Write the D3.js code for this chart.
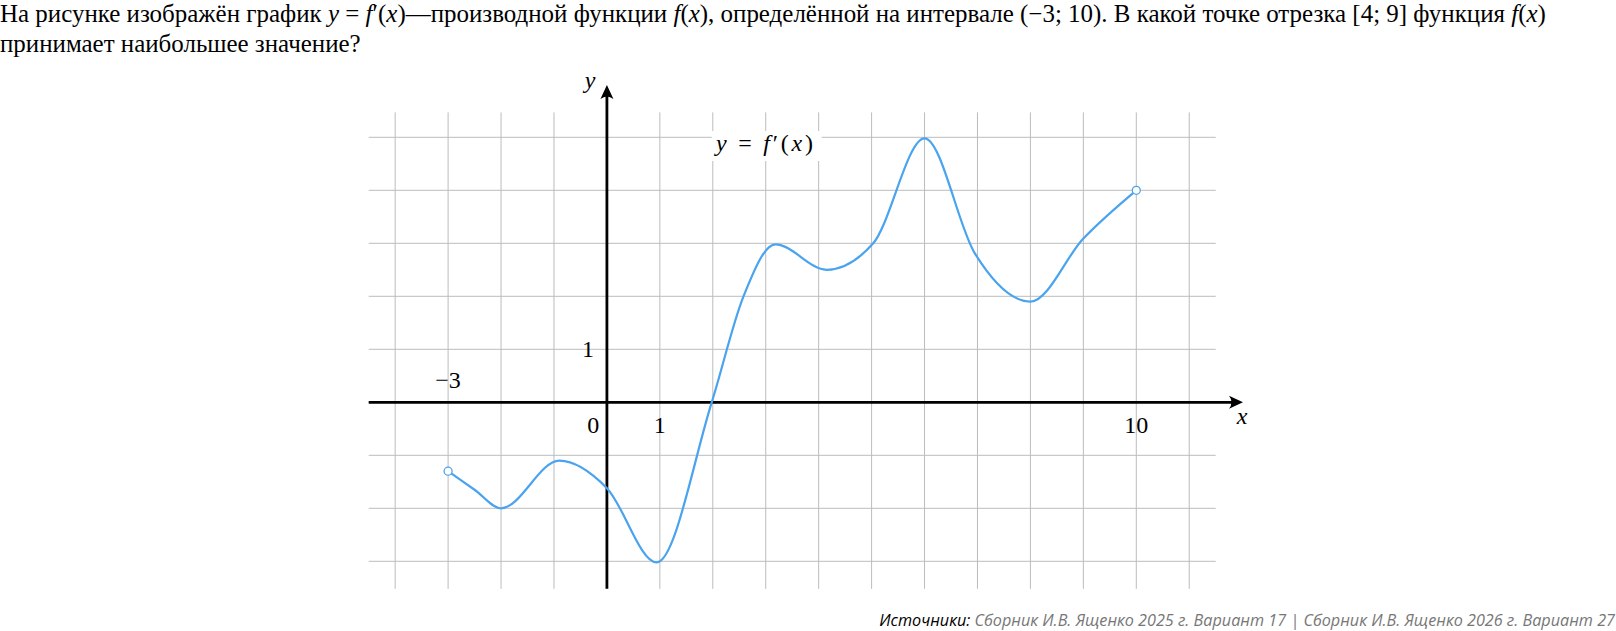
<!DOCTYPE html>
<html><head><meta charset="utf-8">
<script src="https://cdn.jsdelivr.net/npm/d3@7"></script>
<style>
html,body{margin:0;padding:0;background:#fff;}
svg{display:block;}
</style></head>
<body>
<svg id="chart" width="1616" height="631"></svg>
<script>
// ---- data ----
const curveX = [-3, -2.5, -2, -0.9, 0, 0.94, 1.98, 2.58, 3.18, 4.15, 5.03, 6, 6.95, 8, 9, 10];
const curveY = [-1.3, -1.65, -2, -1.1, -1.62, -3.02, 0, 2.0, 2.98, 2.5, 3.0, 4.98, 2.81, 1.9, 3.09, 4];
const openPointsX = [-3, 10];
const openPointsY = [-1.3, 4];
const gridXValues = [-4, -3, -2, -1, 0, 1, 2, 3, 4, 5, 6, 7, 8, 9, 10, 11];
const gridYValues = [-3, -2, -1, 0, 1, 2, 3, 4, 5];
const xTickValues = [-3, 0, 1, 10];
const xTickLabels = ["\u22123", "0", "1", "10"];
const yTickValues = [1];
const yTickLabels = ["1"];

const svg = d3.select("#chart");
const x = d3.scaleLinear().domain([-4.5, 11.5]).range([368.7, 1215.7]);
const y = d3.scaleLinear().domain([-3.5, 5.5]).range([587.8, 110.8]);

const serif = "'Liberation Serif', 'DejaVu Serif', serif";

// ---- title ----
const title = svg.append("g").attr("font-family", serif).attr("fill", "#000");
function addRich(g, parts, yb) {
  const t = g.append("text").attr("x", 0).attr("y", yb);
  parts.forEach(p => {
    const s = t.append("tspan").text(p[0]);
    if (p[1]) s.attr("font-style", "italic");
  });
  return t;
}
const line1 = [
  ["На рисунке изображён график "], ["y", 1], [" = "], ["f", 1], ["\u2032("], ["x", 1], [")"],
  ["\u2014производной функции "], ["f", 1], ["("], ["x", 1], ["), определённой на интервале "],
  ["(\u22123; 10). В какой точке отрезка [4; 9] функция "], ["f", 1], ["("], ["x", 1], [")"]
];
const line2 = [["принимает наибольшее значение?"]];
let fs = 20;
title.attr("font-size", fs);
const t1 = addRich(title, line1, 21.5);
const t2 = addRich(title, line2, 52);
const w1 = t1.node().getComputedTextLength();
fs = fs * 1547 / w1;
title.attr("font-size", fs);

// ---- grid ----
const grid = svg.append("g").attr("stroke", "#bcbcbc").attr("stroke-width", 1);
grid.selectAll("line.v").data(gridXValues).enter().append("line")
  .attr("x1", d => x(d)).attr("x2", d => x(d))
  .attr("y1", y(5.47)).attr("y2", y(-3.52));
grid.selectAll("line.h").data(gridYValues).enter().append("line")
  .attr("x1", x(-4.5)).attr("x2", x(11.5))
  .attr("y1", d => y(d)).attr("y2", d => y(d));

// ---- label box ----
svg.append("rect").attr("x", 711.7).attr("y", 131).attr("width", 110).attr("height", 30).attr("fill", "#fff");
const lab = svg.append("text").attr("font-family", serif).attr("font-size", 24).attr("x", 716).attr("y", 151)
  .attr("textLength", 97).attr("lengthAdjust", "spacing");
[["y", 1], [" = "], ["f", 1], ["\u2032("], ["x", 1], [")"]].forEach(p => {
  const s = lab.append("tspan").text(p[0]); if (p[1]) s.attr("font-style", "italic");
});

// ---- axes ----
const axes = svg.append("g");
axes.append("line").attr("x1", x(-4.5)).attr("x2", 1236).attr("y1", y(0)).attr("y2", y(0))
  .attr("stroke", "#000").attr("stroke-width", 2.8);
axes.append("line").attr("x1", x(0)).attr("x2", x(0)).attr("y1", y(-3.52)).attr("y2", 92)
  .attr("stroke", "#000").attr("stroke-width", 2.8);
const tipX = 1243, tipY = 85;
axes.append("path")
  .attr("d", `M${tipX},${y(0)} L${tipX-14},${y(0)-6.5} Q${tipX-9},${y(0)} ${tipX-14},${y(0)+6.5} Z`)
  .attr("fill", "#000");
axes.append("path")
  .attr("d", `M${x(0)},${tipY} L${x(0)-6.5},${tipY+14} Q${x(0)},${tipY+9} ${x(0)+6.5},${tipY+14} Z`)
  .attr("fill", "#000");

svg.append("text").attr("font-family", serif).attr("font-style", "italic").attr("font-size", 24)
  .attr("x", 590).attr("y", 88).attr("text-anchor", "middle").text("y");
svg.append("text").attr("font-family", serif).attr("font-style", "italic").attr("font-size", 24)
  .attr("x", 1242).attr("y", 424).attr("text-anchor", "middle").text("x");

// tick labels
const tickG = svg.append("g").attr("font-family", serif).attr("font-size", 24).attr("text-anchor", "middle");
tickG.selectAll("text.xt").data(xTickValues).enter().append("text")
  .attr("x", (d) => d === 0 ? x(d) - 13.6 : x(d))
  .attr("y", (d) => d < 0 ? y(0) - 14.5 : y(0) + 30.5)
  .text((d, i) => xTickLabels[i]);
tickG.selectAll("text.yt").data(yTickValues).enter().append("text")
  .attr("x", x(0) - 19).attr("y", d => y(d) + 8)
  .text((d, i) => yTickLabels[i]);

// ---- curve ----
const pts = curveX.map((d, i) => [d, curveY[i]]);
const lineGen = d3.line().x(d => x(d[0])).y(d => y(d[1])).curve(d3.curveMonotoneX);
svg.append("path").attr("d", lineGen(pts)).attr("fill", "none")
  .attr("stroke", "#4aa3ef").attr("stroke-width", 2.2).attr("stroke-linejoin", "round");
svg.selectAll("circle.open").data(openPointsX).enter().append("circle")
  .attr("cx", d => x(d)).attr("cy", (d, i) => y(openPointsY[i])).attr("r", 4)
  .attr("fill", "#fff").attr("stroke", "#4aa3ef").attr("stroke-width", 1.3);

// ---- source ----
const src = svg.append("text").attr("font-family", "'Open Sans', sans-serif").attr("font-style", "italic")
  .attr("font-size", 16.2).attr("x", 1615).attr("y", 626).attr("text-anchor", "end");
src.append("tspan").attr("fill", "#000").text("Источники: ");
src.append("tspan").attr("fill", "#777").text("Сборник И.В. Ященко 2025 г. Вариант 17 | Сборник И.В. Ященко 2026 г. Вариант 27");
</script>
</body></html>
